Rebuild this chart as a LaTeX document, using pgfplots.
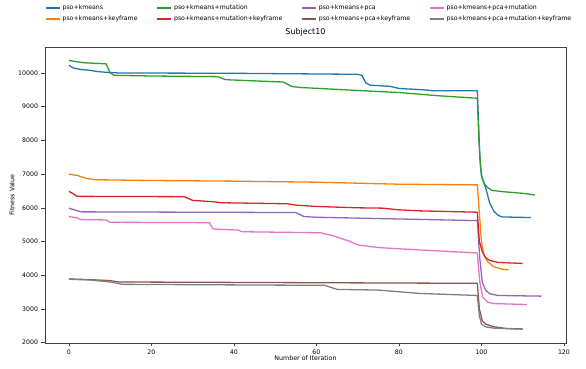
\documentclass[border=0pt]{standalone}
\usepackage{fontspec}
\setmainfont{DejaVu Sans}
\usepackage{pgfplots}
\pgfplotsset{compat=1.18}
\definecolor{c0}{HTML}{1F77B4}
\definecolor{c1}{HTML}{FF7F0E}
\definecolor{c2}{HTML}{2CA02C}
\definecolor{c3}{HTML}{D62728}
\definecolor{c4}{HTML}{9467BD}
\definecolor{c5}{HTML}{8C564B}
\definecolor{c6}{HTML}{E377C2}
\definecolor{c7}{HTML}{7F7F7F}
\begin{document}
\begin{tikzpicture}
\useasboundingbox (-45pt,-26pt) rectangle (541pt,343pt);
\begin{axis}[
  at={(0,0)}, anchor=south west, scale only axis,
  width=521pt, height=296pt,
  xmin=-5.8, xmax=120.5, ymin=1990, ymax=10770,
  xtick={0,20,...,120}, ytick={2000,3000,...,10000},
  tick align=outside, tick pos=left, major tick length=3.5pt,
  axis line style={black!75, line width=0.6pt},
  every tick/.style={black!75, line width=0.6pt},
  ticklabel style={font=\fontsize{6.2}{7}\selectfont},
  /pgf/number format/assume math mode=true,
  /pgf/number format/1000 sep={},
  scaled y ticks=false,
  title={Subject10},
  title style={font=\fontsize{8}{9}\selectfont, at={(0.5,1)}, anchor=south, yshift=1pt},
  xlabel={Number of Iteration},
  xlabel style={font=\fontsize{6.3}{7}\selectfont, at={(0.5,0)}, anchor=center, yshift=-15pt},
  ylabel={Fitness Value},
  ylabel style={font=\fontsize{6.3}{7}\selectfont, at={(0,0.5)}, anchor=center, rotate=0, yshift=33pt},
  legend columns=4,
  legend cell align=left,
  legend image code/.code={\draw[#1, line width=1.5pt] (0pt,0pt) -- (14pt,0pt);},
  legend style={at={(axis description cs:-0.006,1.1565)}, anchor=north west, draw=none, fill=none,
    font=\fontsize{6.2}{7}\selectfont, row sep=1pt,
    /tikz/every even column/.append style={column sep=17pt}},
  every axis plot/.append style={line width=1.3pt, line join=round},
]
\addplot[c0] coordinates {(0,10230) (1,10150) (3,10100) (5,10080) (7,10040) (9,10020) (12,10000) (40,9990) (70,9960) (71,9930) (72,9700) (73,9640) (78,9600) (80,9540) (86,9500) (88,9475) (99,9470) (99.6,7500) (100,6950) (101,6600) (102,6150) (103,5900) (104,5780) (105,5730) (112,5710)};
\addlegendentry{pso+kmeans}
\addplot[c2] coordinates {(0,10370) (2,10330) (4,10300) (9,10270) (10,10000) (11,9930) (20,9910) (36,9890) (38,9800) (44,9770) (52,9730) (54,9600) (56,9570) (70,9480) (80,9420) (90,9320) (99,9250) (99.4,8000) (99.8,7200) (100.2,6850) (100.8,6700) (101.5,6600) (102.5,6520) (105,6480) (110,6430) (113,6380)};
\addlegendentry{pso+kmeans+mutation}
\addplot[c4] coordinates {(0,5990) (1,5950) (3,5880) (55,5860) (57,5740) (60,5720) (99,5620) (99.6,4500) (100.2,3800) (101,3560) (102,3450) (104,3400) (114.5,3380)};
\addlegendentry{pso+kmeans+pca}
\addplot[c6] coordinates {(0,5740) (2,5700) (3,5650) (9,5640) (10,5570) (34,5560) (35,5370) (41,5340) (42,5290) (61,5260) (64,5170) (68,5010) (70,4900) (75,4820) (85,4750) (99,4660) (99.6,3800) (100.3,3350) (101.5,3200) (103,3160) (111,3130)};
\addlegendentry{pso+kmeans+pca+mutation}
\addplot[c1] coordinates {(0,7000) (2,6960) (4,6880) (6,6840) (8,6830) (20,6810) (40,6790) (60,6760) (80,6700) (99,6680) (99.4,6000) (100,5000) (100.6,4600) (101.5,4400) (103,4250) (105,4180) (106.6,4160)};
\addlegendentry{pso+kmeans+keyframe}
\addplot[c3] coordinates {(0,6490) (1,6420) (2,6340) (28,6330) (30,6220) (35,6180) (37,6150) (53,6120) (55,6080) (60,6040) (70,6000) (76,5990) (80,5940) (85,5910) (99,5870) (99.5,5000) (100.2,4700) (101,4520) (102,4440) (104,4380) (110,4350)};
\addlegendentry{pso+kmeans+mutation+keyframe}
\addplot[c5] coordinates {(0,3890) (5,3870) (10,3840) (12,3800) (99,3760) (99.5,3000) (100.2,2650) (101,2550) (103,2470) (106,2420) (110,2410)};
\addlegendentry{pso+kmeans+pca+keyframe}
\addplot[c7] coordinates {(0,3880) (5,3860) (10,3800) (13,3730) (62,3700) (65,3580) (75,3560) (85,3460) (99,3400) (99.5,2800) (100,2550) (101,2470) (103,2430) (110,2400)};
\addlegendentry{pso+kmeans+pca+mutation+keyframe}
\end{axis}
\end{tikzpicture}
\end{document}
